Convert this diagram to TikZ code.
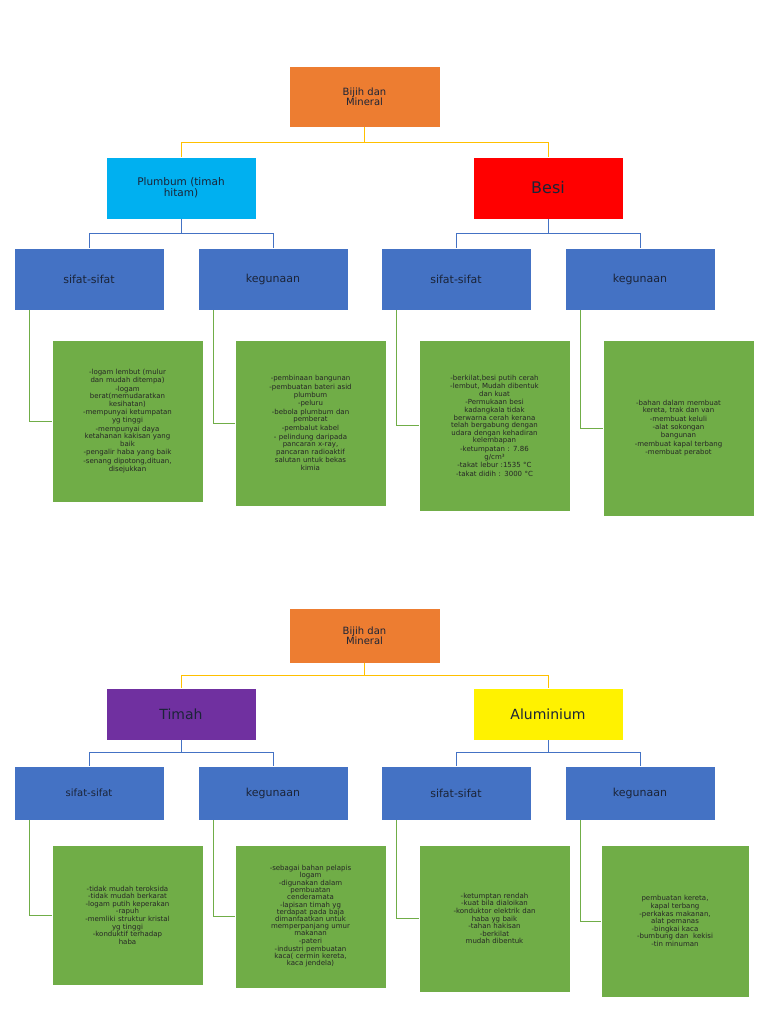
\documentclass[tikz,border=0pt]{standalone}
\usepackage{fontspec}
\setmainfont{DejaVu Sans}
\usetikzlibrary{positioning}
\definecolor{orangebox}{HTML}{ED7D31}
\definecolor{cyanbox}{HTML}{00B0F0}
\definecolor{bluebox}{HTML}{4472C4}
\definecolor{greenbox}{HTML}{70AD47}
\definecolor{purplebox}{HTML}{7030A0}
\definecolor{navytext}{HTML}{1B2438}
\definecolor{yellowline}{HTML}{FFC000}
\tikzset{
  box/.style={draw=white, line width=0.6pt, text=navytext, align=center, inner sep=2pt},
  root/.style={box, fill=orangebox, minimum width=151pt, minimum height=61pt, font=\fontsize{10}{10}\selectfont},
  metal/.style={box, minimum width=150pt, minimum height=62pt},
  sub/.style={box, fill=bluebox, minimum width=150pt, minimum height=62pt, font=\fontsize{11}{12}\selectfont},
  info/.style={box, fill=greenbox, minimum width=151pt, text width=147pt, text=black!85, font=\fontsize{7}{7.6}\selectfont},
  toplink/.style={yellowline, line width=0.6pt},
  midlink/.style={bluebox, line width=0.6pt},
  lowlink/.style={greenbox, line width=0.6pt}
}
\begin{document}
\begin{tikzpicture}[x=1pt, y=-1pt]
\useasboundingbox (0,0) rectangle (768,1024);
% first chart
\node[root] (rootA) at (364.5,96.5) {Bijih dan\\Mineral};
\node[metal, fill=cyanbox, font=\fontsize{10.5}{11}\selectfont] (plumbum) at (181,188) {Plumbum (timah\\hitam)};
\node[metal, fill=red, font=\fontsize{16}{16}\selectfont] (besi) at (548,188) {Besi};
\node[sub] (sifatA) at (89,279) {sifat-sifat};
\node[sub] (gunaA) at (273,279) {kegunaan};
\node[sub] (sifatB) at (456,279) {sifat-sifat};
\node[sub] (gunaB) at (640,279) {kegunaan};
\node[info, minimum height=162pt] (infoA) at (127.5,421) {-logam lembut (mulur\\dan mudah ditempa)\\[1pt]-logam\\berat(memudaratkan\\kesihatan)\\[1pt]-mempunyai ketumpatan\\yg tinggi\\[1pt]-mempunyai daya\\ketahanan kakisan yang\\baik\\[1pt]-pengalir haba yang baik\\[1pt]-senang dipotong,dituan,\\disejukkan};
\node[info, minimum height=166pt] (infoB) at (310.5,423) {-pembinaan bangunan\\[1pt]-pembuatan bateri asid\\plumbum\\[1pt]-peluru\\[1pt]-bebola plumbum dan\\pemberat\\[1pt]-pembalut kabel\\[1pt]- pelindung daripada\\pancaran x-ray,\\pancaran radioaktif\\[1pt]salutan untuk bekas\\kimia};
\node[info, minimum height=171pt] (infoC) at (494.5,425.5) {-berkilat,besi putih cerah\\[1pt]-lembut, Mudah dibentuk\\dan kuat\\[1pt]-Permukaan besi\\kadangkala tidak\\berwarna cerah kerana\\telah bergabung dengan\\udara dengan kehadiran\\kelembapan\\[1pt]-ketumpatan : 7.86\\g/cm³\\[1pt]-takat lebur :1535 °C\\[1pt]-takat didih : 3000 °C};
\node[info, minimum height=176pt] (infoD) at (678.5,428) {-bahan dalam membuat\\kereta, trak dan van\\[1pt]-membuat keluli\\[1pt]-alat sokongan\\bangunan\\[1pt]-membuat kapal terbang\\[1pt]-membuat perabot};
\draw[toplink] (rootA.south) -- ++(0,15) -| (plumbum.north);
\draw[toplink] (rootA.south) -- ++(0,15) -| (besi.north);
\draw[midlink] (plumbum.south) -- ++(0,14) -| (sifatA.north);
\draw[midlink] (plumbum.south) -- ++(0,14) -| (gunaA.north);
\draw[midlink] (besi.south) -- ++(0,14) -| (sifatB.north);
\draw[midlink] (besi.south) -- ++(0,14) -| (gunaB.north);
\draw[lowlink] ([xshift=-60pt]sifatA.south) |- (infoA.west);
\draw[lowlink] ([xshift=-60pt]gunaA.south) |- (infoB.west);
\draw[lowlink] ([xshift=-60pt]sifatB.south) |- (infoC.west);
\draw[lowlink] ([xshift=-60pt]gunaB.south) |- (infoD.west);
% second chart
\node[root, minimum height=55pt] (rootB) at (364.5,635.5) {Bijih dan\\Mineral};
\node[metal, fill=purplebox, minimum height=52pt, font=\fontsize{14}{14}\selectfont] (timah) at (181,714) {Timah};
\node[metal, fill=yellow, minimum height=52pt, font=\fontsize{14}{14}\selectfont] (alum) at (548,714) {Aluminium};
\node[sub, minimum height=54pt, font=\fontsize{10}{11}\selectfont] (sifatC) at (89,793) {sifat-sifat};
\node[sub, minimum height=54pt] (gunaC) at (273,793) {kegunaan};
\node[sub, minimum height=54pt] (sifatD) at (456,793) {sifat-sifat};
\node[sub, minimum height=54pt] (gunaD) at (640,793) {kegunaan};
\node[info, minimum height=140pt] (infoE) at (127.5,915) {-tidak mudah teroksida\\-tidak mudah berkarat\\-logam putih keperakan\\-rapuh\\-memliki struktur kristal\\yg tinggi\\-konduktif terhadap\\haba};
\node[info, minimum height=143pt, font=\fontsize{7}{7}\selectfont] (infoF) at (310.5,916.5) {-sebagai bahan pelapis\\logam\\[1pt]-digunakan dalam\\pembuatan\\cenderamata\\[1pt]-lapisan timah yg\\terdapat pada baja\\dimanfaatkan untuk\\memperpanjang umur\\makanan\\[1pt]-pateri\\[1pt]-industri pembuatan\\kaca( cermin kereta,\\kaca jendela)};
\node[info, minimum height=147pt] (infoG) at (494.5,918.5) {-ketumptan rendah\\-kuat bila dialoikan\\-konduktor elektrik dan\\haba yg baik\\-tahan hakisan\\-berkilat\\mudah dibentuk};
\node[info, minimum height=152pt, minimum width=148pt, text width=144pt] (infoH) at (675,921) {pembuatan kereta,\\kapal terbang\\-perkakas makanan,\\alat pemanas\\-bingkai kaca\\-bumbung dan \ kekisi\\-tin minuman};
\draw[toplink] (rootB.south) -- ++(0,12) -| (timah.north);
\draw[toplink] (rootB.south) -- ++(0,12) -| (alum.north);
\draw[midlink] (timah.south) -- ++(0,12) -| (sifatC.north);
\draw[midlink] (timah.south) -- ++(0,12) -| (gunaC.north);
\draw[midlink] (alum.south) -- ++(0,12) -| (sifatD.north);
\draw[midlink] (alum.south) -- ++(0,12) -| (gunaD.north);
\draw[lowlink] ([xshift=-60pt]sifatC.south) |- (infoE.west);
\draw[lowlink] ([xshift=-60pt]gunaC.south) |- (infoF.west);
\draw[lowlink] ([xshift=-60pt]sifatD.south) |- (infoG.west);
\draw[lowlink] ([xshift=-60pt]gunaD.south) |- (infoH.west);
\end{tikzpicture}
\end{document}
